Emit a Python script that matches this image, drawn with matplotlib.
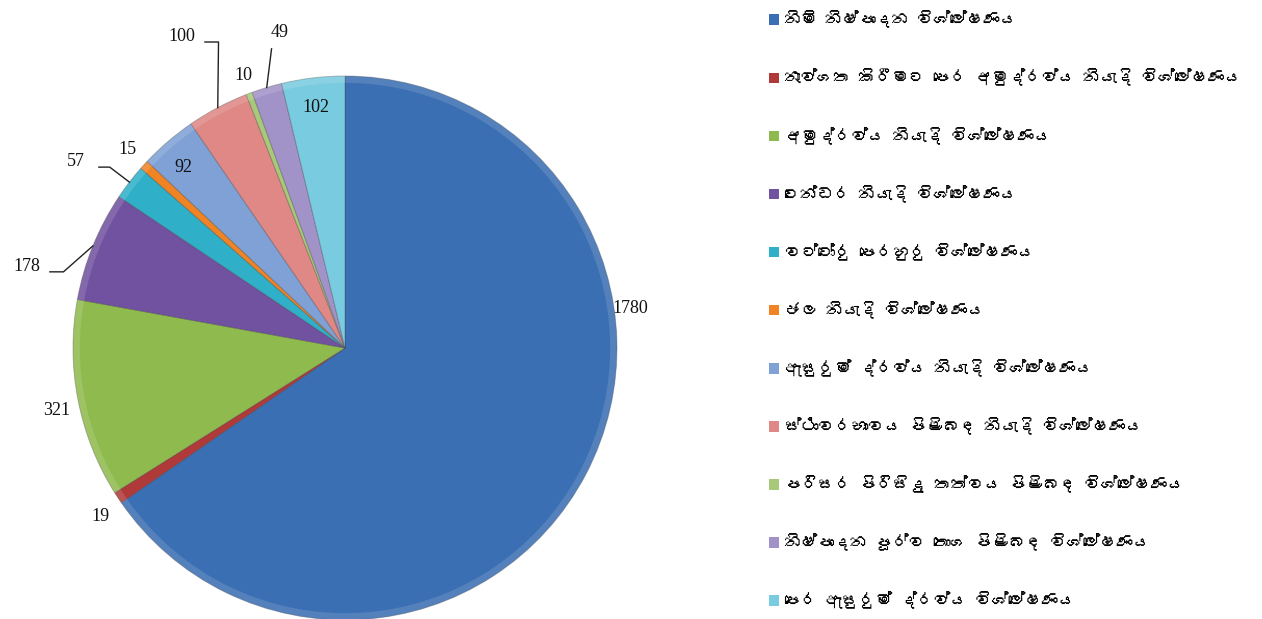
import numpy as np
import matplotlib
matplotlib.use("Agg")
import matplotlib.pyplot as plt
from matplotlib import font_manager, ft2font
from matplotlib.patches import Patch

# --- data -------------------------------------------------------------
categories = [
    "නිමි නිෂ්පාදන විශ්ලේෂණය",
    "නැව්ගත කිරීමට පෙර අමුද්‍රව්‍ය නියැදි විශ්ලේෂණය",
    "අමුද්‍රව්‍ය නියැදි විශ්ලේෂණය",
    "ටෙන්ඩර නියැදි විශ්ලේෂණය",
    "වට්ටෝරු පෙරහුරු විශ්ලේෂණය",
    "ජල නියැදි විශ්ලේෂණය",
    "ඇසුරුම් ද්‍රව්‍ය නියැදි විශ්ලේෂණය",
    "ස්ථාවරභාවය පිළිබඳ නියැදි විශ්ලේෂණය",
    "පරිසර පිරිසිදු තත්වය පිළිබඳ විශ්ලේෂණය",
    "නිෂ්පාදන පූර්ව තොග පිළිබඳ විශ්ලේෂණය",
    "පෙර ඇසුරුම් ද්‍රව්‍ය විශ්ලේෂණය",
]
counts = [1780, 19, 321, 178, 57, 15, 92, 100, 10, 49, 102]

colors = ["#3b6fb3", "#b03a3a", "#8fbb4e", "#7152a0", "#2fb0c8", "#f08424",
          "#7fa1d6", "#df8886", "#a9c97a", "#a192c8", "#79cbe0"]

# label placement in pie units (x, y); leader = elbow length or None
label_pos = [(1.05, 0.145), (-0.90, -0.62), (-1.06, -0.228), (-1.17, 0.30),
             (-0.99, 0.685), (-0.80, 0.73), (-0.596, 0.665), (-0.60, 1.145),
             (-0.375, 1.0), (-0.24, 1.16), (-0.107, 0.885)]
leaders = [None, None, None, 0.05, 0.04, None, None, 0.05, None, 0.0, None]


def sinhala_font():
    for f in font_manager.fontManager.ttflist:
        try:
            ft = ft2font.FT2Font(f.fname)
            if ft.get_char_index(ord("ශ")):
                return f.name
        except Exception:
            continue
    return None


si = sinhala_font()
legend_family = [si, "DejaVu Sans"] if si else ["DejaVu Sans"]
# matplotlib has no complex shaping: the zero-width joiner would show as a box
legend_labels = [c.replace("\u200d", "") for c in categories]

fig = plt.figure(figsize=(12.62, 6.19), dpi=100)
R = 272
cx, cy = 345, 348
ax = fig.add_axes([(cx - R) / 1262, (619 - cy - R) / 619, 2 * R / 1262, 2 * R / 619])

wedges, _ = ax.pie(counts, colors=colors, startangle=90, counterclock=False,
                   radius=1.0,
                   wedgeprops=dict(edgecolor=(0.2, 0.2, 0.2, 0.3), linewidth=0.7))
# soft bevel: faint lighter rim
ax.pie(counts, colors=["white"] * len(counts), startangle=90, counterclock=False,
       radius=1.0, wedgeprops=dict(width=0.025, alpha=0.13, linewidth=0))

ax.set_xlim(-1, 1)
ax.set_ylim(-1, 1)
ax.set_aspect("equal")
ax.axis("off")

for w, n, (lx, ly), ld in zip(wedges, counts, label_pos, leaders):
    ax.text(lx, ly, str(n), ha="center", va="center", fontsize=13,
            family="Liberation Serif", color="#111111", clip_on=False)
    if ld is None:
        continue
    mid = np.deg2rad((w.theta1 + w.theta2) / 2)
    tip = (np.cos(mid), np.sin(mid))
    if ld == 0.0:
        ax.plot([lx - 0.03, tip[0]], [ly - 0.06, tip[1]], color="#222222",
                lw=1, clip_on=False)
    else:
        sx = lx + 0.085
        ax.plot([sx, sx + ld, tip[0]], [ly - 0.02, ly - 0.02, tip[1]],
                color="#222222", lw=1, clip_on=False)

handles = [Patch(facecolor=c, edgecolor="none") for c in colors]
fig.legend(handles, legend_labels, loc="upper left",
           bbox_to_anchor=(762 / 1262, 1 - 4 / 619), frameon=False,
           prop=dict(family=legend_family, size=12),
           handlelength=0.6, handleheight=0.6, handletextpad=0.35,
           labelspacing=2.42, borderaxespad=0)

fig.savefig("out.png", dpi=100)
